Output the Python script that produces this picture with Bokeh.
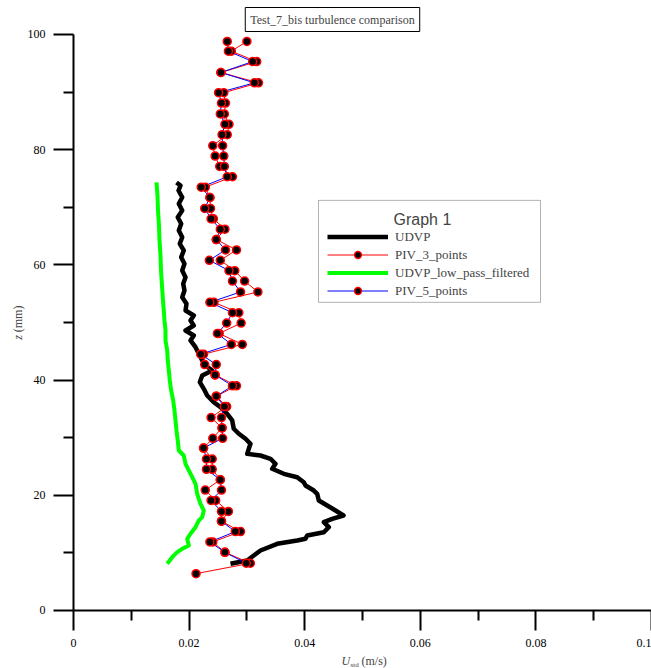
from bokeh.plotting import figure
from bokeh.models import (ColumnDataSource, Range1d, FixedTicker, CustomJSTickFormatter,
                          LinearAxis, Legend, LegendItem, Label, BoxAnnotation)
from bokeh.embed import file_html
from bokeh.resources import INLINE

# ---- data -------------------------------------------------------------
# PIV profiles (heights in mm, standard deviation of velocity in m/s)
z_piv = [98.8, 97.1, 95.3, 93.4, 91.6, 89.9, 88.1, 86.2, 84.4, 82.6, 80.7, 78.9,
         77.1, 75.3, 73.5, 71.7, 69.8, 68.0, 66.2, 64.4, 62.6, 60.8, 59.0, 57.2,
         55.3, 53.5, 51.7, 49.9, 48.1, 46.2, 44.5, 42.7, 40.9, 39.0, 37.2, 35.4,
         33.5, 31.7, 29.9, 28.2, 26.3, 24.5, 22.7, 20.9, 19.1, 17.2, 15.5, 13.7,
         11.9, 10.1, 8.2, 6.4]
u_piv3 = [0.0300, 0.0273, 0.0317, 0.0255, 0.0320, 0.0260, 0.0263, 0.0261, 0.0269,
          0.0266, 0.0241, 0.0245, 0.0253, 0.0275, 0.0228, 0.0236, 0.0237, 0.0242,
          0.0262, 0.0247, 0.0282, 0.0254, 0.0279, 0.0296, 0.0319, 0.0243, 0.0286,
          0.0290, 0.0252, 0.0292, 0.0225, 0.0227, 0.0245, 0.0282, 0.0247, 0.0265,
          0.0238, 0.0257, 0.0241, 0.0225, 0.0240, 0.0240, 0.0254, 0.0228, 0.0246,
          0.0268, 0.0256, 0.0289, 0.0241, 0.0262, 0.0306, 0.0212]
u_piv5 = [0.0266, 0.0268, 0.0310, 0.0255, 0.0313, 0.0251, 0.0256, 0.0254, 0.0262,
          0.0257, 0.0258, 0.0260, 0.0261, 0.0266, 0.0221, 0.0236, 0.0227, 0.0238,
          0.0254, 0.0247, 0.0263, 0.0235, 0.0269, 0.0275, 0.0289, 0.0236, 0.0275,
          0.0265, 0.0249, 0.0273, 0.0220, 0.0247, 0.0245, 0.0275, 0.0247, 0.0261,
          0.0256, 0.0257, 0.0258, 0.0225, 0.0230, 0.0230, 0.0254, 0.0256, 0.0238,
          0.0256, 0.0256, 0.0280, 0.0236, 0.0262, 0.0299]

# UDVP raw profile
z_udvp = [74.31, 73.78, 72.92, 71.75, 70.61, 69.44, 68.28, 67.14, 65.97, 64.81,
          63.66, 62.50, 61.34, 60.19, 59.03, 57.86, 56.72, 55.56, 54.39, 53.25,
          52.08, 51.22, 50.35, 49.48, 48.61, 47.74, 46.88, 45.71, 44.57, 43.40,
          42.53, 41.67, 40.80, 39.64, 38.49, 37.33, 36.16, 35.30, 34.15, 32.99,
          31.55, 30.68, 29.81, 28.94, 28.07, 27.20, 26.91, 26.34, 25.47, 24.60,
          23.73, 23.14, 22.27, 21.70, 20.83, 20.26, 19.10, 18.23, 17.36, 16.49,
          15.92, 15.33, 14.46, 13.59, 13.02, 12.45, 12.15, 11.58, 10.42, 9.55,
          8.68, 8.11]
u_udvp = [0.01782, 0.01851, 0.01817, 0.01881, 0.01822, 0.01881, 0.01804, 0.01863,
          0.01822, 0.01881, 0.01839, 0.01908, 0.01863, 0.01920, 0.01881, 0.01938,
          0.01898, 0.01920, 0.01881, 0.01955, 0.01938, 0.02081, 0.02024, 0.02081,
          0.01938, 0.02081, 0.02024, 0.02111, 0.02168, 0.02227, 0.02284, 0.02400,
          0.02227, 0.02185, 0.02254, 0.02313, 0.02427, 0.02543, 0.02659, 0.02746,
          0.02773, 0.02860, 0.02976, 0.03062, 0.03033, 0.03005, 0.03235, 0.03408,
          0.03495, 0.03438, 0.03638, 0.03870, 0.03984, 0.04014, 0.04157, 0.04216,
          0.04244, 0.04389, 0.04533, 0.04671, 0.04476, 0.04331, 0.04417, 0.04331,
          0.04043, 0.04014, 0.03870, 0.03524, 0.03235, 0.03119, 0.03005, 0.02716]

# UDVP low-pass filtered profile
z_filt = [74.31, 72.05, 69.44, 66.84, 64.24, 61.63, 59.03, 56.42, 53.82, 52.08,
          50.35, 48.61, 46.88, 45.14, 43.40, 41.67, 39.93, 38.19, 36.46, 34.72,
          32.99, 31.25, 29.51, 27.78, 26.91, 25.47, 24.31, 23.14, 22.00, 20.26,
          18.52, 17.36, 16.20, 15.63, 14.46, 13.32, 12.45, 11.28, 10.71, 10.12,
          9.25, 8.11]
u_filt = [0.01436, 0.01453, 0.01462, 0.01479, 0.01488, 0.01505, 0.01514, 0.01531,
          0.01548, 0.01562, 0.01574, 0.01592, 0.01592, 0.01621, 0.01631, 0.01649,
          0.01666, 0.01690, 0.01725, 0.01747, 0.01765, 0.01782, 0.01804, 0.01822,
          0.01908, 0.01938, 0.01995, 0.02054, 0.02111, 0.02140, 0.02197, 0.02254,
          0.02227, 0.02168, 0.02111, 0.02024, 0.01967, 0.01995, 0.01881, 0.01794,
          0.01708, 0.01621]

x_major = [0, 0.02, 0.04, 0.06, 0.08, 0.1]
x_minor = [0.01, 0.03, 0.05, 0.07, 0.09]
y_major = [0, 20, 40, 60, 80, 100]
y_minor = [10, 30, 50, 70, 90]

SERIF = "Liberation Serif"
SANS = "Liberation Sans"

# ---- figure -----------------------------------------------------------
# The frame spans the whole canvas; the axes are pinned at u = 0 and z = 0 so the
# titles and tick labels around them live inside the drawable area.
p = figure(width=651, height=668, output_backend="svg", toolbar_location=None,
           title=None, x_axis_location=None, y_axis_location=None,
           x_range=Range1d(-0.01263, 0.1), y_range=Range1d(-10.07, 105.9),
           min_border=0)
p.outline_line_color = None
p.grid.visible = False
p.background_fill_color = "white"
p.border_fill_color = "white"

xaxis = LinearAxis(fixed_location=0, bounds=(0, 0.1),
                   ticker=FixedTicker(ticks=x_major, minor_ticks=x_minor),
                   formatter=CustomJSTickFormatter(
                       code="return String(Math.round(tick * 100) / 100);"))
yaxis = LinearAxis(fixed_location=0, bounds=(0, 100),
                   ticker=FixedTicker(ticks=y_major, minor_ticks=y_minor))
for ax in (xaxis, yaxis):
    ax.axis_line_width = 2
    ax.major_tick_line_width = 2
    ax.minor_tick_line_width = 2
    ax.major_tick_in = 0
    ax.major_tick_out = 20
    ax.minor_tick_in = 0
    ax.minor_tick_out = 10
    ax.major_label_text_font = SERIF
    ax.major_label_text_font_size = "12px"
    ax.major_label_text_color = "black"
    ax.major_label_standoff = 8
xaxis.major_label_standoff = 9
p.add_layout(xaxis, "below")
p.add_layout(yaxis, "left")

# ---- series -----------------------------------------------------------
src_udvp = ColumnDataSource(dict(u=u_udvp, z=z_udvp))
src_filt = ColumnDataSource(dict(u=u_filt, z=z_filt))
src_p3 = ColumnDataSource(dict(u=u_piv3, z=z_piv))
src_p5 = ColumnDataSource(dict(u=u_piv5, z=z_piv[:len(u_piv5)]))

r_udvp = p.line("u", "z", source=src_udvp, line_color="black", line_width=4.5,
                line_join="round")
r_filt = p.line("u", "z", source=src_filt, line_color="#00ff00", line_width=4,
                line_join="round")
r_p3_line = p.line("u", "z", source=src_p3, line_color="#ff0000", line_width=1)
r_p5_line = p.line("u", "z", source=src_p5, line_color="#0000ff", line_width=1)
marker_style = dict(marker="circle", size=8, fill_color="black",
                    line_color="#ff0000", line_width=1.5)
r_p3_pts = p.scatter("u", "z", source=src_p3, **marker_style)
r_p5_pts = p.scatter("u", "z", source=src_p5, **marker_style)

# ---- legend -----------------------------------------------------------
legend_box = BoxAnnotation(left=0.04239, right=0.08080, bottom=53.5, top=71.2,
                           fill_color="white", fill_alpha=1.0,
                           line_color="black", line_width=1, level="annotation")
p.add_layout(legend_box)
p.add_layout(Label(x=0.05536, y=67.9, text="Graph 1", text_font=SANS,
                   text_font_size="16px", text_baseline="middle", text_align="left"))

legend = Legend(items=[
    LegendItem(label="UDVP", renderers=[r_udvp]),
    LegendItem(label="PIV_3_points", renderers=[r_p3_line, r_p3_pts]),
    LegendItem(label="UDVP_low_pass_filtered", renderers=[r_filt]),
    LegendItem(label="PIV_5_points", renderers=[r_p5_line, r_p5_pts]),
], location=(327, 369))
legend.border_line_color = None
legend.background_fill_alpha = 0
legend.padding = 0
legend.margin = 0
legend.spacing = 1
legend.glyph_width = 61
legend.glyph_height = 17
legend.label_height = 17
legend.label_standoff = 7
legend.label_text_font = SERIF
legend.label_text_font_size = "13px"
p.add_layout(legend)

# ---- title and axis titles --------------------------------------------
p.add_layout(Label(x=0.04481, y=102.6, text="Test_7_bis turbulence comparison",
                   text_font=SERIF, text_font_size="12px", text_align="center",
                   text_baseline="middle", border_line_color="black",
                   border_line_width=1, background_fill_color="white", padding=5))

label_style = dict(text_font=SERIF, text_baseline="middle", text_align="left")
# y axis: "z (mm)", rotated
p.add_layout(Label(x=-0.00952, y=47.0, text="z", angle=1.5708, text_font_style="italic",
                   text_font_size="12px", **label_style))
p.add_layout(Label(x=-0.00952, y=48.3, text="(mm)", angle=1.5708,
                   text_font_size="12px", **label_style))
# x axis: "U_std (m/s)"
p.add_layout(Label(x=0.04637, y=-8.7, text="U", text_font_style="italic",
                   text_font_size="12px", **label_style))
p.add_layout(Label(x=0.04792, y=-9.4, text="std", text_font_size="7px", **label_style))
p.add_layout(Label(x=0.04983, y=-8.7, text="(m/s)", text_font_size="12px",
                   **label_style))

open("out.html", "w").write(file_html(p, INLINE))
